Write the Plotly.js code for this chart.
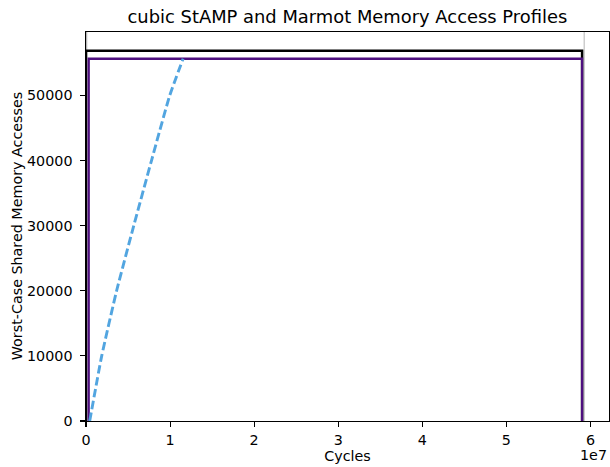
<!DOCTYPE html>
<html>
<head>
<meta charset="utf-8">
<script src="https://cdn.plot.ly/plotly-3.0.1.min.js"></script>
<style>html,body{margin:0;padding:0;background:#fff;}#chart{width:610px;height:467px;}</style>
</head>
<body>
<div id="chart"></div>
<script>
// Gray marker lines (start / end of run)
const grayStartX = [0, 0];
const grayEndX = [59250000, 59250000];
const grayY = [0, 60000];

// Black profile (StAMP bound)
const stampX = [0, 0, 59000000, 59000000];
const stampY = [0, 56880, 56880, 0];

// Purple profile (Marmot)
const marmotX = [320000, 320000, 59000000, 59000000];
const marmotY = [0, 55640, 55640, 0];

// Dashed blue cumulative profile
const cumX = [440000, 1870000, 3640000, 5680000, 7790000, 9960000, 11550000];
const cumY = [0, 10000, 20000, 30000, 40000, 50000, 55640];

// Tick labels
const xTickVals = [0, 1e7, 2e7, 3e7, 4e7, 5e7, 6e7];
const xTickText = ['0', '1', '2', '3', '4', '5', '6'];
const yTickVals = [0, 10000, 20000, 30000, 40000, 50000];
const yTickText = ['0', '10000', '20000', '30000', '40000', '50000'];

const font = '"DejaVu Sans"';
const fs = 14.3;

const traces = [
  {x: grayStartX, y: grayY, mode: 'lines', line: {color: '#b5b5b5', width: 2.5}, hoverinfo: 'skip'},
  {x: grayEndX, y: grayY, mode: 'lines', line: {color: '#c0c0c0', width: 1.2}, hoverinfo: 'skip'},
  {x: stampX, y: stampY, mode: 'lines', line: {color: '#000000', width: 2.5}},
  {x: marmotX, y: marmotY, mode: 'lines', line: {color: '#4e0f7f', width: 2.3}},
  {x: cumX, y: cumY, mode: 'lines', line: {color: '#52a5e0', width: 2.9, dash: '8.5px,3.5px', shape: 'spline', smoothing: 0.5}}
];

const layout = {
  width: 610, height: 467,
  margin: {l: 86.3, r: 1, t: 31.7, b: 46.3},
  paper_bgcolor: '#ffffff', plot_bgcolor: '#ffffff',
  showlegend: false,
  font: {family: font, size: fs, color: '#000'},
  title: {text: 'cubic StAMP and Marmot Memory Access Profiles', font: {family: font, size: 17.9, color: '#000'},
          x: 0.5695, xanchor: 'center', yref: 'container', y: 0.9637, yanchor: 'middle'},
  xaxis: {
    range: [0, 62200000], tickvals: xTickVals, ticktext: xTickText,
    showgrid: false, zeroline: false, showline: true, mirror: true, linecolor: '#000', linewidth: 1.1,
    ticks: 'outside', ticklen: 5, tickwidth: 1.1, tickcolor: '#000', ticklabelstandoff: 1,
    tickfont: {family: font, size: fs, color: '#000'},
    title: {text: 'Cycles', font: {family: font, size: fs, color: '#000'}, standoff: 2}
  },
  yaxis: {
    range: [0, 59745], tickvals: yTickVals, ticktext: yTickText.map(t => t + '\u00a0'),
    showgrid: false, zeroline: false, showline: true, mirror: true, linecolor: '#000', linewidth: 1.1,
    ticks: 'outside', ticklen: 5, tickwidth: 1.1, tickcolor: '#000',
    tickfont: {family: font, size: fs, color: '#000'}
  },
  annotations: [
    {text: 'Worst-Case Shared Memory Accesses', xref: 'paper', yref: 'paper', x: -0.1325, y: 0.5,
     xanchor: 'center', yanchor: 'middle', textangle: -90, showarrow: false,
     font: {family: font, size: fs, color: '#000'}},
    {text: '1e7', xref: 'paper', yref: 'paper', x: 1, y: -0.088, xanchor: 'right', yanchor: 'middle',
     showarrow: false, font: {family: font, size: fs, color: '#000'}}
  ]
};

Plotly.newPlot('chart', traces, layout, {displayModeBar: false, staticPlot: true});
</script>
</body>
</html>
